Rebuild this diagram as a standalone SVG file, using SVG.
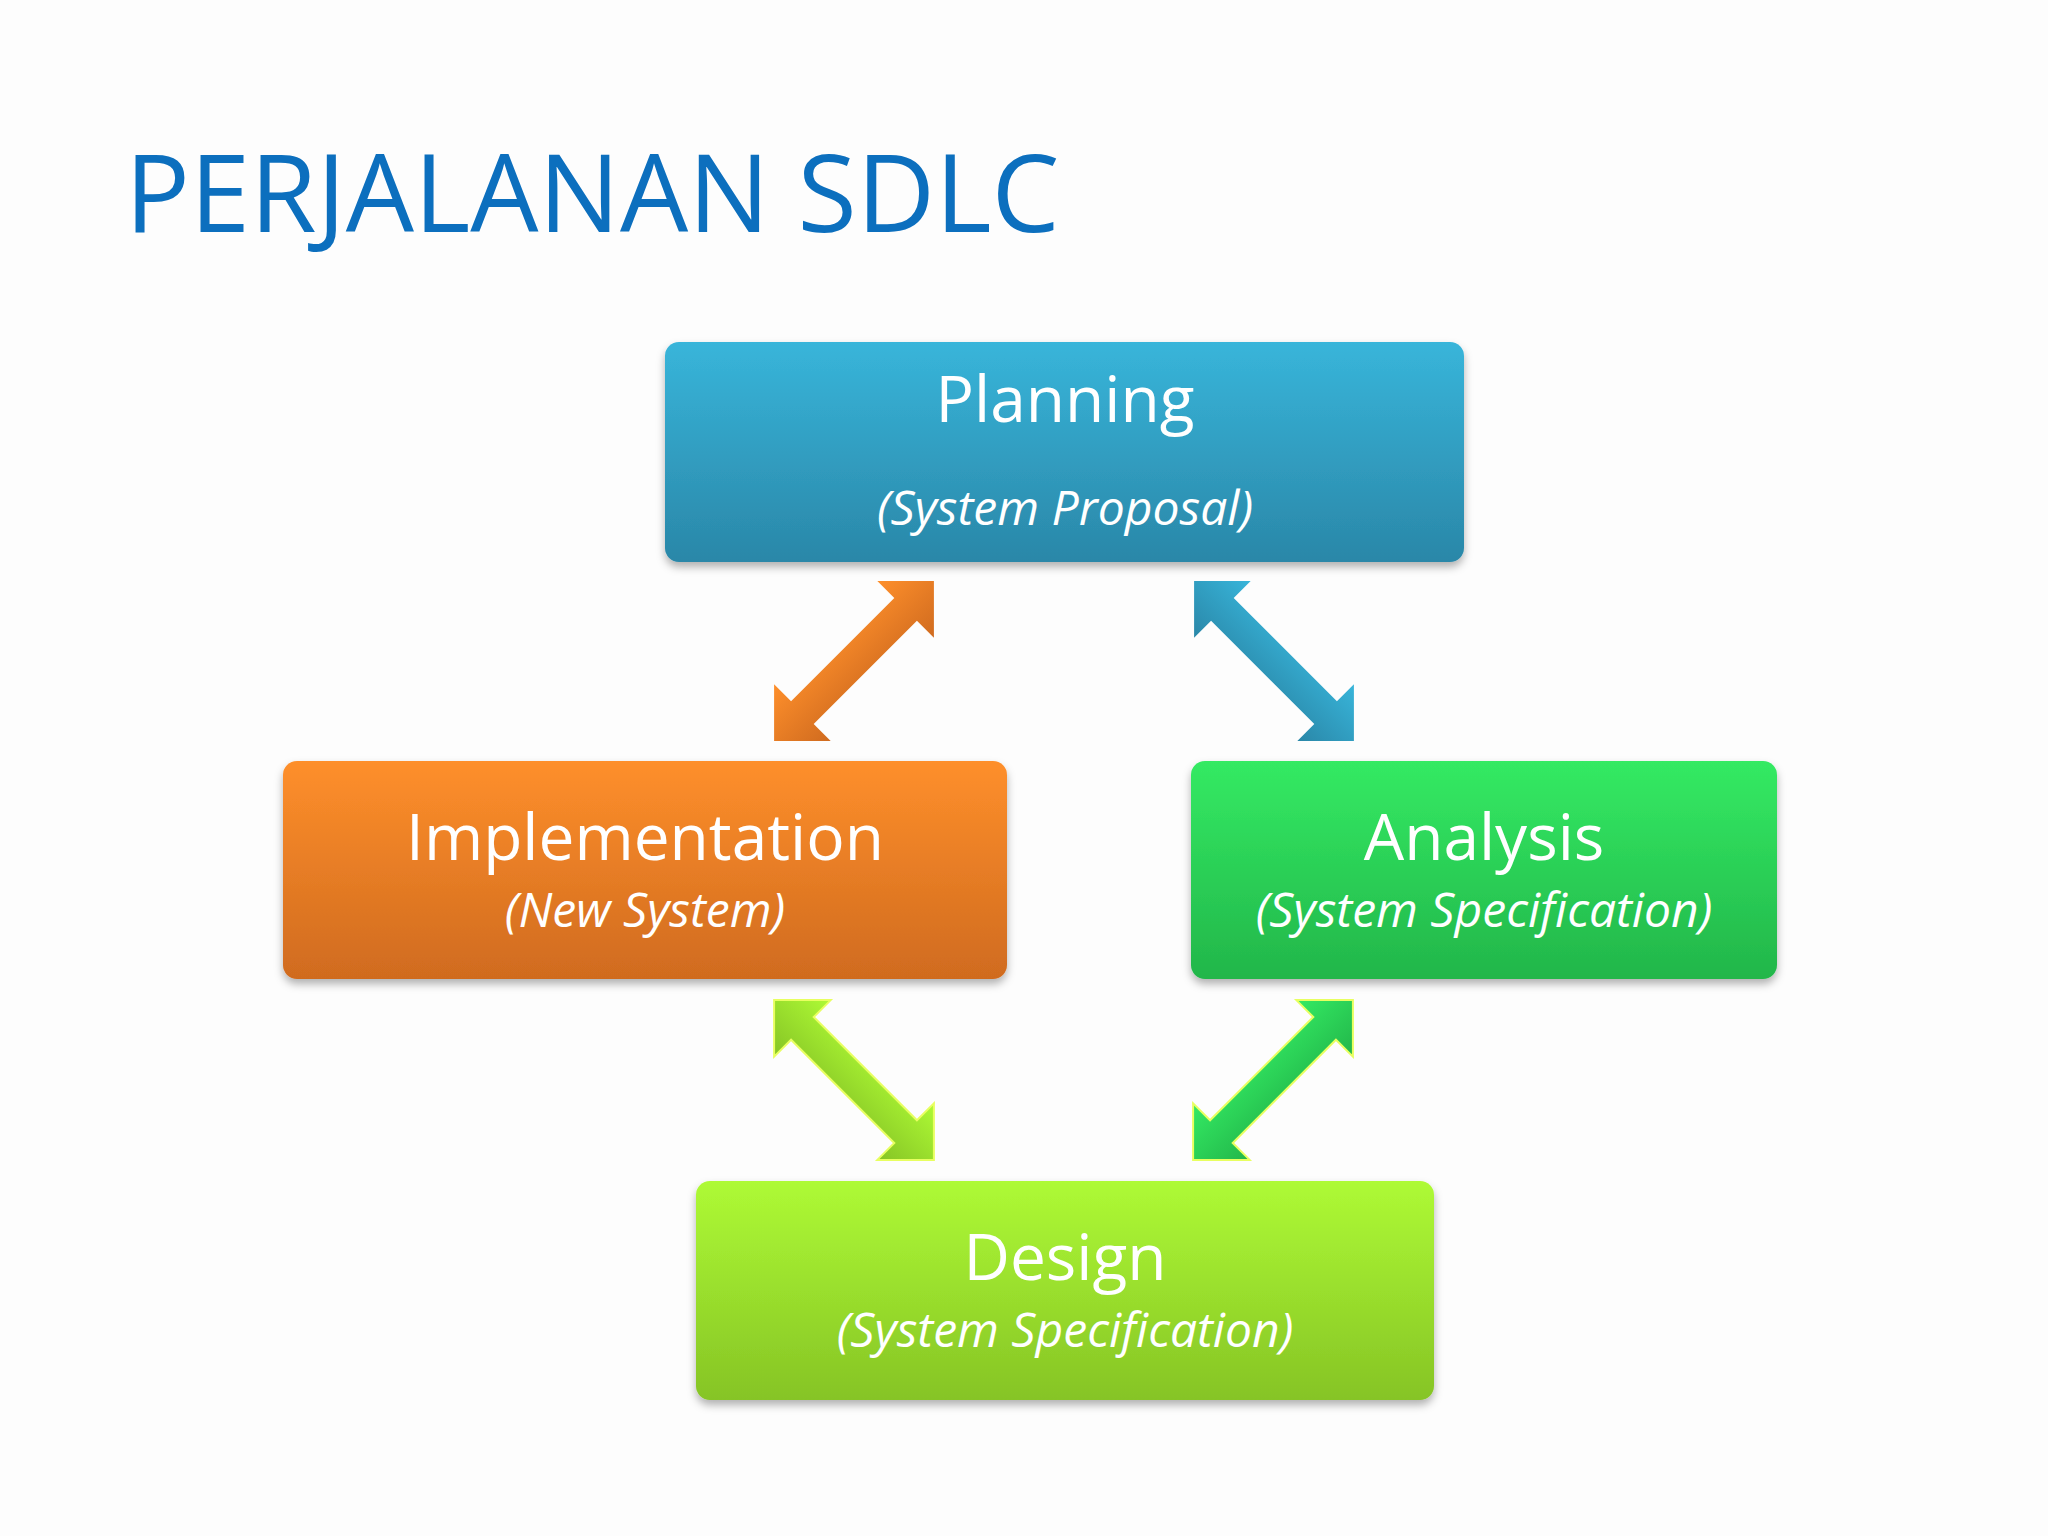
<svg xmlns="http://www.w3.org/2000/svg" width="2048" height="1536" viewBox="0 0 2048 1536">
<defs>
<linearGradient id="gb" x1="0" y1="0" x2="0" y2="1"><stop offset="0" stop-color="#38b5da"/><stop offset="1" stop-color="#2a87a8"/></linearGradient>
<linearGradient id="go" x1="0" y1="0" x2="0" y2="1"><stop offset="0" stop-color="#fe8f2b"/><stop offset="1" stop-color="#d06b1f"/></linearGradient>
<linearGradient id="gg" x1="0" y1="0" x2="0" y2="1"><stop offset="0" stop-color="#34ea63"/><stop offset="1" stop-color="#22b64a"/></linearGradient>
<linearGradient id="gl" x1="0" y1="0" x2="0" y2="1"><stop offset="0" stop-color="#aefa35"/><stop offset="1" stop-color="#86c425"/></linearGradient>
<filter id="sh" x="-10%" y="-10%" width="120%" height="130%"><feDropShadow dx="0" dy="5" stdDeviation="4" flood-color="#000" flood-opacity="0.3"/></filter>
<polygon id="arr" points="-113,0 -73,-40 -73,-16 73,-16 73,-40 113,0 73,40 73,16 -73,16 -73,40"/>
</defs>
<style>
.t{font-family:"Open Sans","Noto Sans",sans-serif;fill:#fff;text-anchor:middle}
.m{font-size:64px}
.s{font-size:48px;font-style:italic}
</style>
<rect width="2048" height="1536" fill="#fdfdfd"/>
<text x="125" y="232" font-family="Open Sans, sans-serif" font-size="108" fill="#0c6fbe">PERJALANAN SDLC</text>
<g id="connectors">
<use href="#arr" fill="url(#go)" transform="translate(854,661) rotate(-45)"/>
<use href="#arr" fill="url(#gb)" transform="translate(1274,661) rotate(45)"/>
<use href="#arr" fill="url(#gl)" stroke="#e8ff60" stroke-width="2" transform="translate(854,1080) rotate(45)"/>
<use href="#arr" fill="url(#gg)" stroke="#e8ff60" stroke-width="2" transform="translate(1273,1080) rotate(-45)"/>
</g>
<g id="planning"><rect x="665" y="342" width="799" height="220" rx="14" fill="url(#gb)" filter="url(#sh)"/>
<text class="t m" x="1065" y="422">Planning</text><text class="t s" x="1065" y="525">(System Proposal)</text></g>
<g id="implementation"><rect x="283" y="761" width="724" height="218" rx="14" fill="url(#go)" filter="url(#sh)"/>
<text class="t m" x="645" y="860">Implementation</text><text class="t s" x="645" y="927">(New System)</text></g>
<g id="analysis"><rect x="1191" y="761" width="586" height="218" rx="14" fill="url(#gg)" filter="url(#sh)"/>
<text class="t m" x="1484" y="860">Analysis</text><text class="t s" x="1484" y="927">(System Specification)</text></g>
<g id="design"><rect x="696" y="1181" width="738" height="219" rx="14" fill="url(#gl)" filter="url(#sh)"/>
<text class="t m" x="1065" y="1280">Design</text><text class="t s" x="1065" y="1347">(System Specification)</text></g>
</svg>
